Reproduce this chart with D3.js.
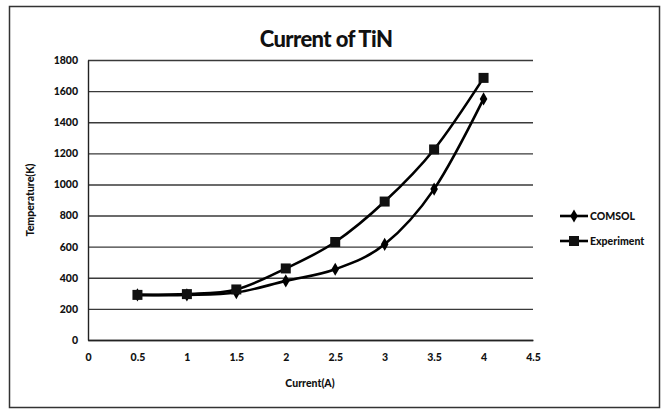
<!DOCTYPE html>
<html><head><meta charset="utf-8">
<script src="https://cdn.jsdelivr.net/npm/d3@7"></script>
<style>
html,body{margin:0;padding:0;background:#fff;}
svg{display:block;}
text{font-family:Lato,"Open Sans",sans-serif;font-weight:900;fill:#111;}
</style></head>
<body>
<script>
const currents = [0.5, 1, 1.5, 2, 2.5, 3, 3.5, 4];
const comsol = [290, 290, 305, 380, 455, 615, 970, 1550];
const experiment = [290, 295, 325, 460, 630, 890, 1225, 1685];
const yTicks = [0, 200, 400, 600, 800, 1000, 1200, 1400, 1600, 1800];
const xTicks = [0, 0.5, 1, 1.5, 2, 2.5, 3, 3.5, 4, 4.5];
const seriesNames = ["COMSOL", "Experiment"];

const W = 668, H = 414;
const svg = d3.select("body").append("svg").attr("width", W).attr("height", H);

svg.append("rect").attr("x", 9.5).attr("y", 6.5).attr("width", 650).attr("height", 401)
  .attr("fill", "#fff").attr("stroke", "#333").attr("stroke-width", 1.5);

const x = d3.scaleLinear().domain([0, 4.5]).range([88, 533]);
const y = d3.scaleLinear().domain([0, 1800]).range([340, 60]);

// gridlines
const grid = svg.append("g").attr("class", "grid")
  .attr("transform", "translate(88,0)")
  .call(d3.axisLeft(y).tickValues(yTicks).tickSize(-(533 - 88)).tickFormat(""));
grid.select(".domain").remove();
grid.selectAll("line").attr("stroke", "#3a3a3a").attr("stroke-width", 1.4);

// y axis
const ya = svg.append("g").attr("transform", "translate(88,0)")
  .call(d3.axisLeft(y).tickValues(yTicks).tickSize(0).tickPadding(10).tickFormat(d3.format("d")));
ya.select(".domain").attr("stroke", "#222").attr("stroke-width", 1.4);
ya.selectAll("text").attr("font-size", 10.5).attr("font-family", "Lato, sans-serif").attr("font-weight", "900").attr("fill", "#111");

// x axis
const xa = svg.append("g").attr("transform", "translate(0,340)")
  .call(d3.axisBottom(x).tickValues(xTicks).tickSize(0).tickPadding(14).tickFormat(d => String(d)));
xa.select(".domain").attr("stroke", "#222").attr("stroke-width", 1.4);
xa.selectAll("text").attr("font-size", 10.5).attr("font-family", "Lato, sans-serif").attr("font-weight", "900").attr("fill", "#111");

// title
svg.append("text").attr("x", 326).attr("y", 47).attr("text-anchor", "middle")
  .attr("font-size", 22).style("letter-spacing", "-0.6px").text("Current of TiN");

// axis titles
svg.append("text").attr("x", 310).attr("y", 387).attr("text-anchor", "middle")
  .attr("font-size", 10.5).text("Current(A)");
svg.append("text").attr("transform", "translate(34,200) rotate(-90)").attr("text-anchor", "middle")
  .attr("font-size", 10.5).text("Temperature(K)");

const line = d3.line().x(d => x(d[0])).y(d => y(d[1])).curve(d3.curveCatmullRom.alpha(0));
const data = [currents.map((c, i) => [c, comsol[i]]), currents.map((c, i) => [c, experiment[i]])];

data.forEach(d => {
  svg.append("path").datum(d).attr("d", line).attr("fill", "none")
    .attr("stroke", "#000").attr("stroke-width", 2.6);
});

const diamond = d3.symbol().type(d3.symbolDiamond).size(50);
svg.append("g").selectAll("path").data(data[0]).join("path")
  .attr("transform", d => `translate(${x(d[0])},${y(d[1])})`).attr("d", diamond).attr("fill", "#000");
svg.append("g").selectAll("rect").data(data[1]).join("rect")
  .attr("x", d => x(d[0]) - 5).attr("y", d => y(d[1]) - 5).attr("width", 10).attr("height", 10).attr("fill", "#111");

// legend
const lg = svg.append("g");
seriesNames.forEach((name, i) => {
  const ly = 216 + i * 25;
  lg.append("line").attr("x1", 560).attr("x2", 588).attr("y1", ly).attr("y2", ly)
    .attr("stroke", "#000").attr("stroke-width", 2.6);
  if (i === 0) {
    lg.append("path").attr("transform", `translate(574,${ly})`).attr("d", diamond).attr("fill", "#000");
  } else {
    lg.append("rect").attr("x", 569).attr("y", ly - 5).attr("width", 10).attr("height", 10).attr("fill", "#111");
  }
  lg.append("text").attr("x", 590).attr("y", ly + 4).attr("font-size", 10.5).text(name);
});
</script>
</body></html>
